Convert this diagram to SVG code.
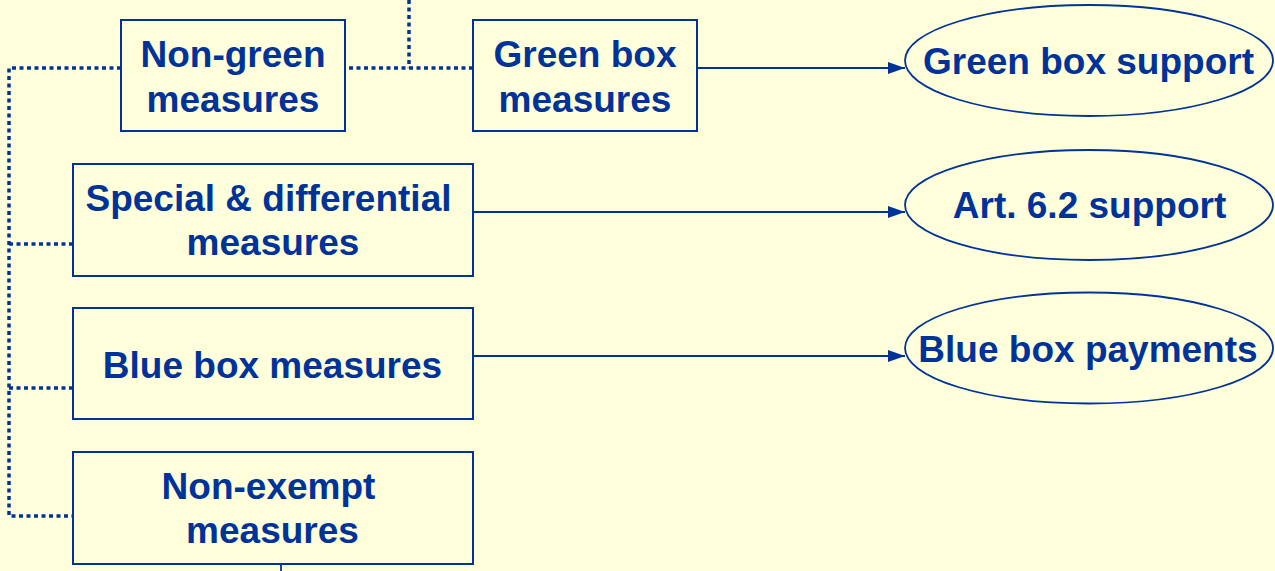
<svg xmlns="http://www.w3.org/2000/svg" width="1275" height="571" viewBox="0 0 1275 571">
<defs>
<style>
.box{fill:none;stroke:#003399;stroke-width:2}
.ell{fill:none;stroke:#003399;stroke-width:1.8}
.t{font-family:"Liberation Sans",Arial,sans-serif;font-weight:bold;font-size:37px;fill:#003399;text-anchor:middle}
.dot{fill:none;stroke:#003399;stroke-width:3.5;stroke-dasharray:4 3.5}
.sol{fill:none;stroke:#003399;stroke-width:1.8}
</style>
<marker id="arr" markerWidth="17" markerHeight="12" refX="17" refY="6" orient="auto" markerUnits="userSpaceOnUse">
<path d="M0,0 L17,6 L0,12 Z" fill="#003399"/>
</marker>
</defs>
<rect width="1275" height="571" fill="#FFFFDC"/>
<g id="connectors">
<path class="dot" d="M409,0 V68"/>
<path class="dot" d="M349,68 H473"/>
<path class="dot" d="M121,68 H9 V516 H73"/>
<path class="dot" d="M9,244 H73"/>
<path class="dot" d="M9,388 H73"/>
<path class="sol" d="M697,68 H905" marker-end="url(#arr)"/>
<path class="sol" d="M473,212 H905" marker-end="url(#arr)"/>
<path class="sol" d="M473,356 H905" marker-end="url(#arr)"/>
<path class="sol" d="M281,564 V571"/>
</g>
<g id="non-green">
<rect class="box" x="121" y="20" width="224" height="111"/>
<text class="t" x="233" y="67">Non-green</text>
<text class="t" x="233" y="112">measures</text>
</g>
<g id="green-box-measures">
<rect class="box" x="473" y="20" width="224" height="111"/>
<text class="t" x="585" y="67">Green box</text>
<text class="t" x="585" y="112">measures</text>
</g>
<g id="special">
<rect class="box" x="73" y="164" width="400" height="112"/>
<text class="t" x="268.5" y="211">Special &amp; differential</text>
<text class="t" x="273" y="255">measures</text>
</g>
<g id="blue-box-measures">
<rect class="box" x="73" y="308" width="400" height="111"/>
<text class="t" x="272.5" y="378">Blue box measures</text>
</g>
<g id="non-exempt">
<rect class="box" x="73" y="452" width="400" height="112"/>
<text class="t" x="268.5" y="499">Non-exempt</text>
<text class="t" x="272.5" y="543">measures</text>
</g>
<g id="green-box-support">
<ellipse class="ell" cx="1089" cy="60.5" rx="184" ry="55.5"/>
<text class="t" x="1088.5" y="74">Green box support</text>
</g>
<g id="art-62-support">
<ellipse class="ell" cx="1089" cy="205" rx="184" ry="55"/>
<text class="t" x="1089.5" y="218">Art. 6.2 support</text>
</g>
<g id="blue-box-payments">
<ellipse class="ell" cx="1089" cy="348" rx="184" ry="55.5"/>
<text class="t" x="1088" y="362">Blue box payments</text>
</g>
</svg>
